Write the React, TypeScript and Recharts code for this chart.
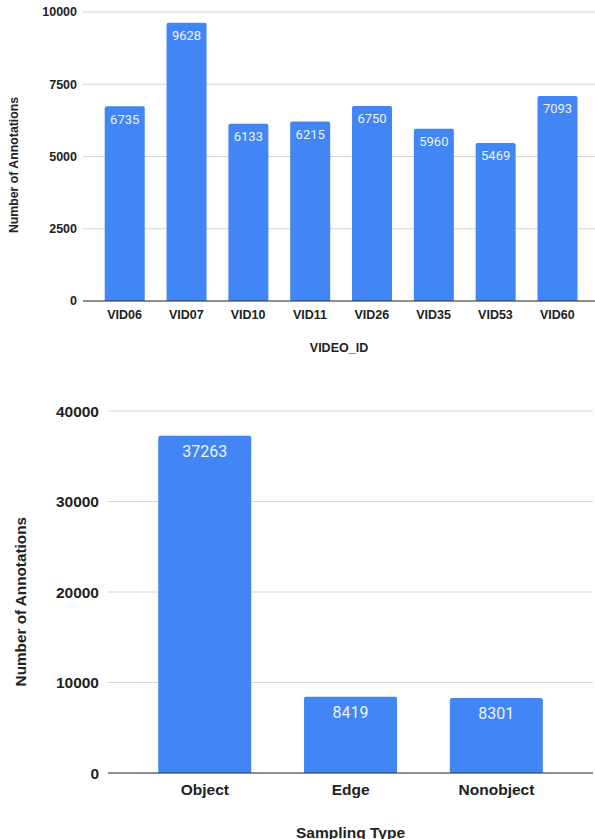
import React from "react";
import { BarChart, Bar, XAxis, YAxis, CartesianGrid, LabelList } from "recharts";

// annotations per video
const videoIds = ["VID06", "VID07", "VID10", "VID11", "VID26", "VID35", "VID53", "VID60"];
const videoCounts = [6735, 9628, 6133, 6215, 6750, 5960, 5469, 7093];
const videoTicks = [0, 2500, 5000, 7500, 10000];

// annotations per sampling type
const samplingTypes = ["Object", "Edge", "Nonobject"];
const samplingCounts = [37263, 8419, 8301];
const samplingTicks = [0, 10000, 20000, 30000, 40000];

const BLUE = "#4285f4";
const AXIS_FONT = "Arial, 'Liberation Sans', sans-serif";
const LABEL_FONT = "Roboto, sans-serif";

const videoData = videoIds.map((id, i) => ({ id, count: videoCounts[i] }));
const samplingData = samplingTypes.map((type, i) => ({ type, count: samplingCounts[i] }));

// rotated title on the left of the plot
const yTitle = (text: string, fontSize: number, dx: number, dy: number) => (props: any) => {
  const vb = props.viewBox || {};
  const cx = vb.x + dx;
  const cy = vb.y + vb.height / 2 + dy;
  return (
    <text
      x={cx}
      y={cy}
      transform={`rotate(-90, ${cx}, ${cy})`}
      textAnchor="middle"
      dominantBaseline="central"
      fontFamily={AXIS_FONT}
      fontWeight="bold"
      fontSize={fontSize}
      fill="#222"
    >
      {text}
    </text>
  );
};

// centered title under the categories
const xTitle = (text: string, fontSize: number, dy: number) => (props: any) => {
  const vb = props.viewBox || {};
  return (
    <text
      x={vb.x + vb.width / 2}
      y={vb.y + dy}
      textAnchor="middle"
      dominantBaseline="central"
      fontFamily={AXIS_FONT}
      fontWeight="bold"
      fontSize={fontSize}
      fill="#222"
    >
      {text}
    </text>
  );
};

export default function App() {
  return (
    <div style={{ position: "absolute", left: 0, top: 0, width: 595, height: 839, background: "#fff", overflow: "hidden" }}>
      <div style={{ position: "absolute", left: 0, top: 0 }}>
        <BarChart width={595} height={370} data={videoData} margin={{ top: 12, right: 0, left: 0, bottom: 0 }} barCategoryGap="18%">
          <CartesianGrid vertical={false} stroke="#d6d6d6" />
          <XAxis
            dataKey="id"
            height={69}
            padding={{ left: 10.6, right: 6.8 }}
            tickLine={false}
            tickSize={0}
            tickMargin={9}
            axisLine={{ stroke: "#333" }}
            tick={{ fontSize: 12.5, fontWeight: "bold", fill: "#222", fontFamily: AXIS_FONT }}
            label={xTitle("VIDEO_ID", 12.5, 47)}
          />
          <YAxis
            width={83}
            domain={[0, 10000]}
            ticks={videoTicks}
            axisLine={false}
            tickLine={false}
            tickSize={0}
            tickMargin={6}
            tick={{ fontSize: 12.5, fontWeight: "bold", fill: "#222", fontFamily: AXIS_FONT }}
            label={yTitle("Number of Annotations", 12.3, 14, 8.5)}
          />
          <Bar dataKey="count" fill={BLUE} radius={[2, 2, 0, 0]} isAnimationActive={false}>
            <LabelList dataKey="count" position="insideTop" offset={8} fill="#eef3fe" fontSize={13} fontFamily={LABEL_FONT} />
          </Bar>
        </BarChart>
      </div>
      <div style={{ position: "absolute", left: 0, top: 370 }}>
        <BarChart width={595} height={469} data={samplingData} margin={{ top: 41, right: 2, left: 0, bottom: 0 }} barCategoryGap="18%">
          <CartesianGrid vertical={false} stroke="#d6d6d6" />
          <XAxis
            dataKey="type"
            height={66}
            padding={{ left: 24, right: 23.6 }}
            tickLine={false}
            tickSize={0}
            tickMargin={10.5}
            axisLine={{ stroke: "#333" }}
            tick={{ fontSize: 15.5, fontWeight: "bold", fill: "#222", fontFamily: AXIS_FONT }}
            label={xTitle("Sampling Type", 15.5, 59)}
          />
          <YAxis
            width={108}
            domain={[0, 40000]}
            ticks={samplingTicks}
            axisLine={false}
            tickLine={false}
            tickSize={0}
            tickMargin={9}
            tick={{ fontSize: 15.5, fontWeight: "bold", fill: "#222", fontFamily: AXIS_FONT }}
            label={yTitle("Number of Annotations", 15.3, 21, 9.7)}
          />
          <Bar dataKey="count" fill={BLUE} radius={[2, 2, 0, 0]} isAnimationActive={false}>
            <LabelList dataKey="count" position="insideTop" offset={10} fill="#eef3fe" fontSize={16} fontFamily={LABEL_FONT} />
          </Bar>
        </BarChart>
      </div>
    </div>
  );
}
